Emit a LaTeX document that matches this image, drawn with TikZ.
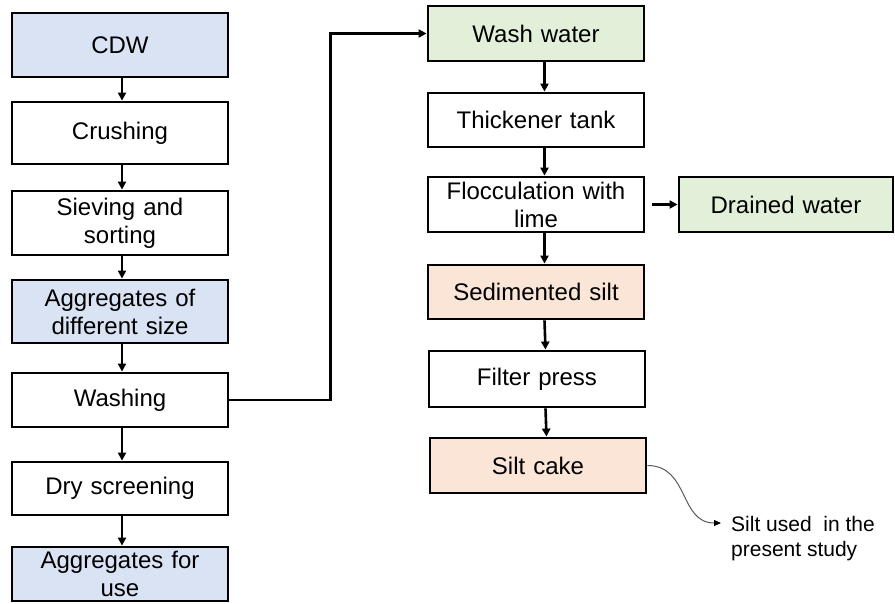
\documentclass[tikz,border=0pt]{standalone}
\usepackage{fontspec}
\setmainfont{Liberation Sans}
\usetikzlibrary{arrows.meta}
\definecolor{stageblue}{RGB}{218,227,243}
\definecolor{stagegreen}{RGB}{226,240,217}
\definecolor{stagepeach}{RGB}{251,229,214}
\definecolor{notegray}{RGB}{89,89,89}
\begin{document}
\begin{tikzpicture}[x=1pt,y=-1pt,
  >={Triangle[length=8pt,width=8pt]},
  stage/.style={draw,line width=2.8pt,minimum width=216pt,inner sep=0pt,
    text width=212pt,align=center,font=\fontsize{24}{28}\selectfont},
  flow/.style={->,line width=2.6pt}]
\useasboundingbox (0,0) rectangle (895,603);

% left column: aggregate line
\node[stage,fill=stageblue,minimum height=64pt] (cdw) at (120,45) {CDW};
\node[stage,minimum height=62pt] (crush) at (120,133) {Crushing};
\node[stage,minimum height=64pt] (sieve) at (120,223) {Sieving and\\sorting};
\node[stage,fill=stageblue,minimum height=63pt] (aggdiff) at (120,311.5) {Aggregates of\\different size};
\node[stage,minimum height=54pt] (wash) at (120,400) {Washing};
\node[stage,minimum height=53pt] (dry) at (120,488.5) {Dry screening};
\node[stage,fill=stageblue,minimum height=54pt] (agguse) at (120,574) {Aggregates for\\use};

\foreach \a/\b in {cdw/crush,crush/sieve,sieve/aggdiff,aggdiff/wash,wash/dry,dry/agguse}
  \draw[flow] ([xshift=2pt]\a.south) -- ([xshift=2pt]\b.north);

% right column: water line
\node[stage,fill=stagegreen,minimum height=55pt] (washwater) at (536,33.5) {Wash water};
\node[stage,minimum height=54pt] (thick) at (536,120) {Thickener tank};
\node[stage,minimum height=55pt] (floc) at (536,204.5) {Flocculation with\\lime};
\node[stage,fill=stagepeach,minimum height=54pt] (sed) at (536,292) {Sedimented silt};
\node[stage,minimum height=56pt] (filt) at (537,379) {Filter press};
\node[stage,fill=stagepeach,minimum height=55pt] (cake) at (538,465.5) {Silt cake};
\node[stage,fill=stagegreen,minimum width=214pt,text width=210pt,minimum height=55pt] (drained) at (786,204.5) {Drained water};

\foreach \a/\b in {washwater/thick,thick/floc,floc/sed,sed/filt,filt/cake}
  \draw[flow] ([xshift=8.5pt]\a.south) -- ([xshift=8.5pt]\b.north);

\draw[flow] (wash.east) -- ++(101,0) |- (washwater.west);
\draw[flow,shorten <=7pt] (floc.east) -- (drained.west);

% note on the silt cake
\coordinate (notetip) at (721,523);
\node[anchor=north west,inner sep=0pt,align=left,font=\fontsize{21}{25}\selectfont] (note) at (731,516) {Silt used\ \ in the\\present study};
\draw[notegray,line width=1pt,-{Triangle[length=7pt,width=6pt,black]}]
  (cake.east) to[out=0,in=180,looseness=1.15] (notetip);

\end{tikzpicture}
\end{document}
